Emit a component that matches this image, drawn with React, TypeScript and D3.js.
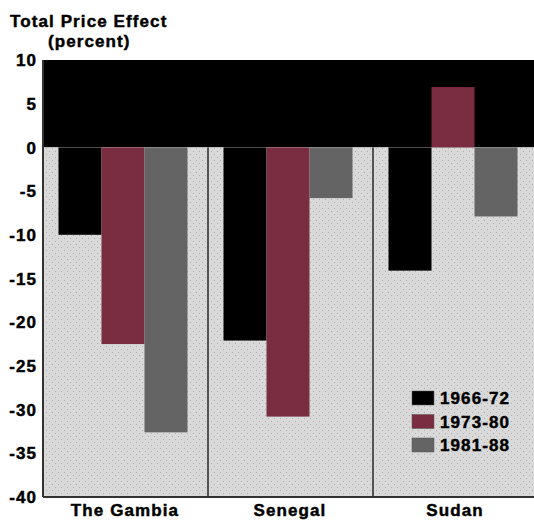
import React from "react";
import * as d3 from "d3";

const countries = ["The Gambia", "Senegal", "Sudan"];
const periods = ["1966-72", "1973-80", "1981-88"];
const values1966 = [-10, -22.1, -14.1];
const values1973 = [-22.5, -30.8, 6.9];
const values1981 = [-32.6, -5.8, -7.9];
const yTicks = [10, 5, 0, -5, -10, -15, -20, -25, -30, -35, -40];
const colors = ["#000000", "#7a2d40", "#646464"];

const W = 534;
const H = 521;
const left = 43;
const right = 534;
const top = 60;
const bottom = 497;

export default function App() {
  const series = [values1966, values1973, values1981];
  const y = d3.scaleLinear().domain([-40, 10]).range([bottom, top]);
  const x0 = d3.scaleBand().domain(countries).range([left, left + 495]).padding(0);
  const x1 = d3.scaleBand().domain(periods).range([15.5, 144.5]).padding(0);
  const y0 = y(0);
  const font = "'Liberation Sans', Arial, Helvetica, sans-serif";
  const textStyle: React.CSSProperties = {
    fontFamily: font,
    fontWeight: 700,
    fontSize: 17,
    letterSpacing: 1.1,
  };
  const textStroke = { stroke: "#000", strokeWidth: 0.45 };

  return (
    <svg width={W} height={H} style={{ position: "absolute", left: 0, top: 0 }}>
      <defs>
        <pattern id="dots" width="6" height="6" patternUnits="userSpaceOnUse">
          <rect width="6" height="6" fill="#d9d9d9" />
          <rect x="1" y="1" width="1" height="1" fill="#adadad" />
          <rect x="4" y="4" width="1" height="1" fill="#adadad" />
        </pattern>
      </defs>
      <rect x={0} y={0} width={W} height={H} fill="#ffffff" />
      {/* background */}
      <rect x={left} y={top} width={right - left} height={y0 - top} fill="#000000" />
      <rect x={left} y={y0} width={right - left} height={bottom - y0} fill="url(#dots)" />

      {/* separators */}
      {countries.slice(1).map((c) => (
        <line
          key={c}
          x1={x0(c)!}
          x2={x0(c)!}
          y1={y0}
          y2={bottom}
          stroke="#333"
          strokeWidth={1.6}
        />
      ))}

      {/* bars */}
      {countries.map((c, ci) =>
        periods.map((p, pi) => {
          const v = series[pi][ci];
          const bx = x0(c)! + x1(p)!;
          const by = Math.min(y(v), y0);
          const bh = Math.abs(y(v) - y0);
          return (
            <rect
              key={c + p}
              x={bx}
              y={by}
              width={x1.bandwidth()}
              height={bh}
              fill={colors[pi]}
            />
          );
        })
      )}

      {/* axes */}
      <line x1={left} x2={left} y1={top} y2={bottom} stroke="#333" strokeWidth={2} />
      <line x1={left} x2={right} y1={bottom} y2={bottom} stroke="#333" strokeWidth={2} />

      {yTicks.map((t) => (
        <text key={t} x={37} y={y(t)} dy="0.36em" textAnchor="end" style={textStyle} fill="#000" {...textStroke}>
          {t}
        </text>
      ))}

      {countries.map((c) => (
        <text
          key={c}
          x={x0(c)! + 82}
          y={516}
          textAnchor="middle"
          style={textStyle}
          fill="#000"
          {...textStroke}
        >
          {c}
        </text>
      ))}

      {/* title */}
      <text x={10} y={27} style={textStyle} fill="#000" {...textStroke}>
        Total Price Effect
      </text>
      <text x={48} y={47} style={textStyle} fill="#000" {...textStroke}>
        (percent)
      </text>

      {/* legend */}
      {periods.map((p, i) => (
        <g key={p} transform={`translate(412, ${391 + i * 23.5})`}>
          <rect width={22} height={14} fill={colors[i]} stroke="#555" strokeWidth={0.5} />
          <text x={28} y={7} dy="0.36em" style={textStyle} fill="#000" {...textStroke}>
            {p}
          </text>
        </g>
      ))}
    </svg>
  );
}
